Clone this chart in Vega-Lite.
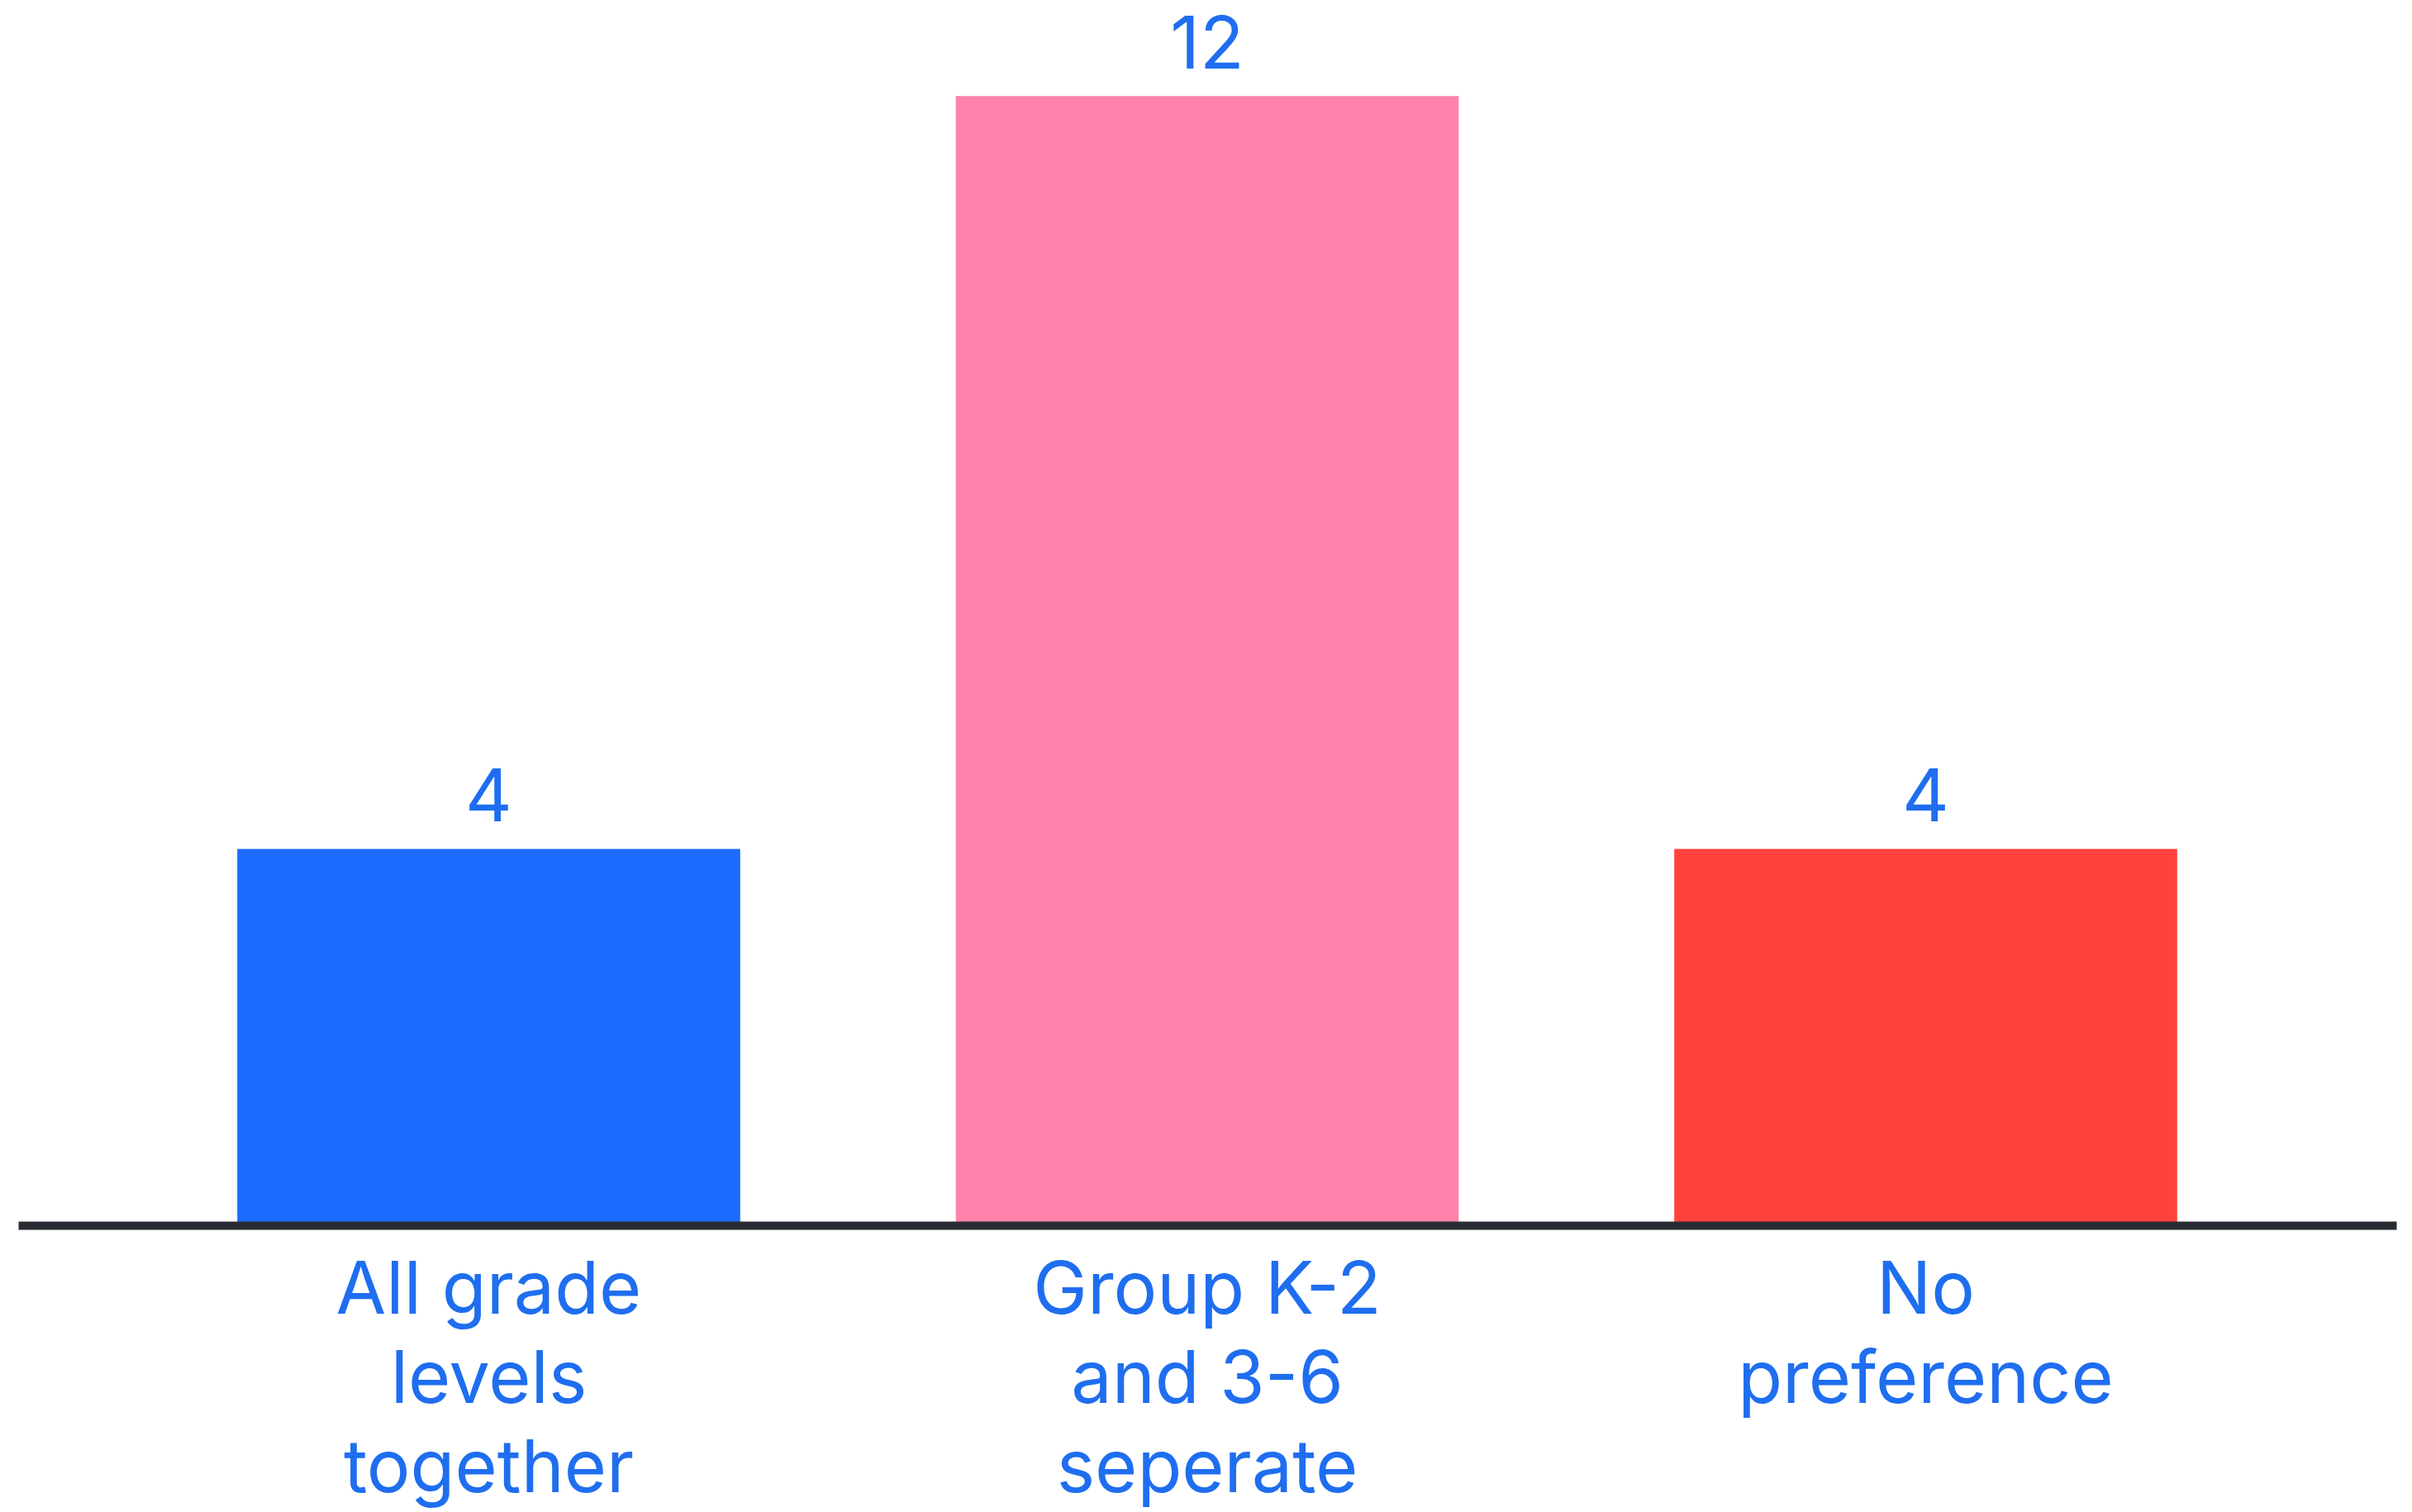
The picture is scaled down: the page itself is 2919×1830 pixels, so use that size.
{
  "$schema": "https://vega.github.io/schema/vega-lite/v6.json",
  "width": 2878,
  "height": 1475,
  "autosize": {"type": "none"},
  "padding": {"left": 22, "top": 8, "right": 19, "bottom": 347},
  "background": "#ffffff",
  "config": {"view": {"stroke": null}, "font": "Inter"},
  "data": {
    "values": [
      {"category": "All grade levels together", "count": 4, "color": "#1b6bff"},
      {"category": "Group K-2 and 3-6 seperate", "count": 12, "color": "#ff83aa"},
      {"category": "No preference", "count": 4, "color": "#ff423c"}
    ]
  },
  "encoding": {
    "x": {
      "field": "category",
      "type": "nominal",
      "sort": null,
      "scale": {"paddingInner": 0.3, "paddingOuter": 0.305},
      "axis": {
        "title": null,
        "labelAngle": 0,
        "ticks": false,
        "domain": true,
        "domainColor": "#292c33",
        "domainWidth": 10,
        "labelFont": "Inter",
        "labelFontSize": 88,
        "labelColor": "#1f6ef0",
        "labelLineHeight": 108,
        "labelPadding": 36,
        "labelBaseline": "top",
        "labelLimit": 0,
        "zindex": 1,
        "labelExpr": "datum.value == 'All grade levels together' ? ['All grade','levels','together'] : datum.value == 'Group K-2 and 3-6 seperate' ? ['Group K-2','and 3-6','seperate'] : ['No','preference']"
      }
    },
    "y": {
      "field": "count",
      "type": "quantitative",
      "scale": {"domain": [0, 12.95], "nice": false},
      "axis": null
    }
  },
  "layer": [
    {
      "mark": {"type": "bar"},
      "encoding": {
        "color": {"field": "color", "type": "nominal", "scale": null}
      }
    },
    {
      "mark": {
        "type": "text",
        "baseline": "alphabetic",
        "dy": -33,
        "font": "Inter",
        "fontSize": 88,
        "color": "#1f6ef0"
      },
      "encoding": {
        "text": {"field": "count", "type": "quantitative"}
      }
    }
  ]
}
